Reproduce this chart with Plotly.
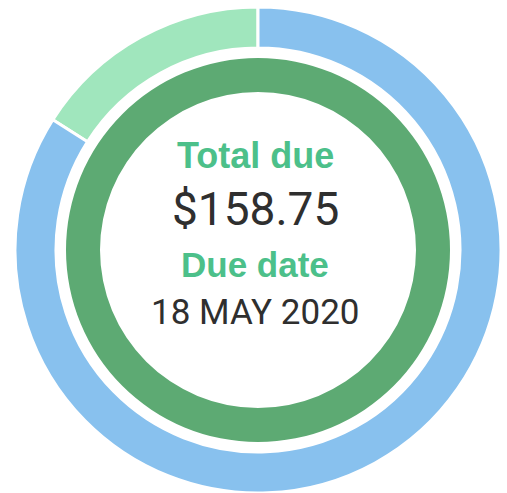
import plotly.graph_objects as go

W, H = 507, 493

outer_labels = ["Paid", "Remaining"]
outer_values = [16, 84]
outer_colors = ["#a0e6bd", "#88c1ee"]

inner_labels = ["Total"]
inner_values = [100]
inner_colors = ["#5daa73"]

title1 = "Total due"
amount = "$158.75"
title2 = "Due date"
due_date = "18 MAY 2020"

cx, cy = 258, 250
R_out, r_out = 243, 202
R_in, r_in = 192, 158

def dom(R):
    return dict(x=[(cx - R) / W, (cx + R) / W],
                y=[(H - cy - R) / H, (H - cy + R) / H])

fig = go.Figure()
fig.add_trace(go.Pie(
    labels=outer_labels, values=outer_values, hole=r_out / R_out,
    sort=False, direction="clockwise", rotation=-360 * outer_values[0] / sum(outer_values),
    marker=dict(colors=outer_colors, line=dict(color="white", width=3)),
    textinfo="none", hoverinfo="label+value", domain=dom(R_out), showlegend=False))
fig.add_trace(go.Pie(
    labels=inner_labels, values=inner_values, hole=r_in / R_in,
    sort=False, marker=dict(colors=inner_colors, line=dict(width=0)),
    textinfo="none", hoverinfo="label", domain=dom(R_in), showlegend=False))

def ann(text, ypix, size, color, family):
    fig.add_annotation(text=text, x=cx / W - 0.005, y=1 - ypix / H, xref="paper", yref="paper",
                       showarrow=False, xanchor="center", yanchor="middle",
                       font=dict(size=size, color=color, family=family))

ann("<b>" + title1 + "</b>", 156, 36, "#4cc08a", "Arial, Liberation Sans")
ann(amount, 209, 46, "#2f2f2f", "Roboto")
ann("<b>" + title2 + "</b>", 264, 35, "#4cc08a", "Arial, Liberation Sans")
ann(due_date, 312, 35, "#2f2f2f", "Roboto")

fig.update_layout(width=W, height=H, margin=dict(l=0, r=0, t=0, b=0),
                  paper_bgcolor="white", plot_bgcolor="white")
fig.write_html("out.html")
